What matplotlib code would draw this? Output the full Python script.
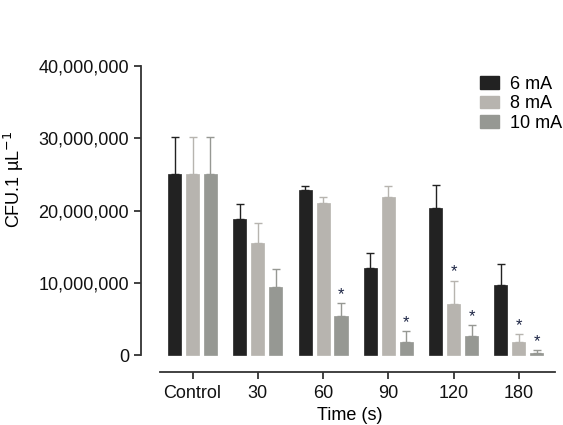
""" Bar chart of CFU counts per treatment time and current """

import matplotlib.pyplot as plt
import matplotlib.ticker as ticker
from matplotlib.patches import Patch
import numpy as np

plt.rcParams['font.family'] = ['Liberation Sans', 'DejaVu Sans']

groups = ["Control", "30", "60", "90", "120", "180"]
series = ["6 mA", "8 mA", "10 mA"]

ma6 = [25.0e6, 18.8e6, 22.9e6, 12.1e6, 20.4e6, 9.7e6]
ma6_err = [5.2e6, 2.1e6, 0.5e6, 2.0e6, 3.1e6, 2.9e6]
ma8 = [25.0e6, 15.5e6, 21.0e6, 21.9e6, 7.0e6, 1.75e6]
ma8_err = [5.2e6, 2.8e6, 0.9e6, 1.5e6, 3.3e6, 1.15e6]
ma10 = [25.0e6, 9.4e6, 5.4e6, 1.75e6, 2.7e6, 0.3e6]
ma10_err = [5.2e6, 2.5e6, 1.75e6, 1.55e6, 1.45e6, 0.35e6]

# significance marks (group index, series index)
stars = [(2, 2), (3, 2), (4, 1), (4, 2), (5, 1), (5, 2)]

colors = ["#222222", "#b7b4af", "#969893"]

fig = plt.figure(figsize=(5.63, 4.25), dpi=100)
ax = fig.add_axes([0.2504, 0.1247, 0.7407, 0.72])

x = np.arange(len(groups))
width = 0.2
offset = 0.275
data = [(ma6, ma6_err), (ma8, ma8_err), (ma10, ma10_err)]

for i, (vals, errs) in enumerate(data):
    pos = x + (i - 1) * offset
    ax.bar(pos, vals, width, color=colors[i], edgecolor=colors[i], linewidth=0.5,
           label=series[i], zorder=2)
    ax.errorbar(pos, vals, yerr=[np.zeros(len(vals)), errs], fmt='none',
                ecolor=colors[i], elinewidth=1, capsize=2.8, capthick=1, zorder=1)

for g, s in stars:
    vals, errs = data[s]
    ax.annotate("*", (x[g] + (s - 1) * offset, vals[g] + errs[g]),
                xytext=(0, 1), textcoords="offset points", ha="center", va="bottom",
                fontsize=12, color="#1c2444")

ax.set_xlim(-0.79, 5.6)
ax.set_ylim(-2.35e6, 40e6)
ax.spines['top'].set_visible(False)
ax.spines['right'].set_visible(False)
ax.spines['left'].set_bounds(0, 40e6)
ax.spines['bottom'].set_bounds(-0.5, 5.55)
for sp in ('left', 'bottom'):
    ax.spines[sp].set_linewidth(1.3)
    ax.spines[sp].set_color("#333333")

ax.yaxis.set_major_locator(ticker.MultipleLocator(10e6))
ax.yaxis.set_major_formatter(ticker.FuncFormatter(lambda v, p: f"{int(v):,}"))
ax.set_xticks(x)
ax.set_xticklabels(groups)
ax.tick_params(axis='both', labelsize=13, length=5, width=1.3, color="#333333",
               labelcolor="#111111")
ax.tick_params(axis='x', pad=4)

ax.set_xlabel("Time (s)", fontsize=13, labelpad=4)
ax.set_ylabel("CFU.1 µL$^{-1}$", fontsize=13)
ax.yaxis.set_label_coords(-0.275, 0.63)

handles = [Patch(facecolor=c, edgecolor=c) for c in colors]
ax.legend(handles, series, loc="upper right", bbox_to_anchor=(1.04, 1.01),
          frameon=False, fontsize=13, handlelength=1.05, handleheight=0.7,
          handletextpad=0.6, labelspacing=0.15, borderaxespad=0.3)

fig.savefig("out.png", dpi=100)
